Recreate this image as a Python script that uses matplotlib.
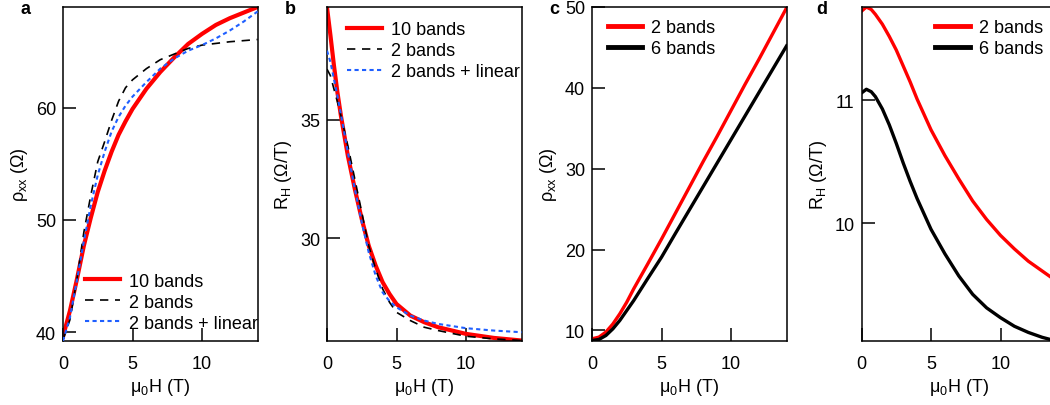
import matplotlib
matplotlib.use("Agg")
import matplotlib.pyplot as plt

plt.rcParams["font.family"] = ["Liberation Sans", "DejaVu Sans"]
plt.rcParams["mathtext.default"] = "regular"
plt.rcParams["font.size"] = 13

# ---- panel a: rho_xx fits (10 bands / 2 bands / 2 bands + linear)
a_x = [0, 0.5, 1, 1.5, 2, 2.5, 3, 3.5, 4, 4.5, 5, 6, 7, 8, 9, 10, 11, 12, 13, 14]
a_10b = [39.6, 41.9, 44.7, 47.7, 50.2, 52.5, 54.4, 56.1, 57.6, 58.8, 59.9,
         61.7, 63.2, 64.5, 65.7, 66.6, 67.4, 68.0, 68.5, 69.0]
a_2b = [39.3, 41.1, 44.7, 48.9, 52.2, 55.2, 57.0, 58.9, 60.6, 61.8, 62.5,
        63.5, 64.3, 64.8, 65.3, 65.6, 65.75, 65.9, 66.0, 66.1]
a_2bl = [39.2, 41.3, 44.6, 48.1, 51.3, 54.0, 56.1, 57.9, 59.2, 60.2, 61.0,
         62.3, 63.5, 64.4, 65.1, 65.6, 66.2, 66.9, 67.7, 68.6]

# ---- panel b: R_H fits
b_x = [0, 0.25, 0.5, 0.75, 1, 1.5, 2, 2.5, 3, 3.5, 4, 4.5, 5, 6, 7, 8, 10, 12, 14]
b_10b = [39.73, 38.54, 37.28, 36.15, 35.17, 33.48, 32.08, 30.81, 29.69, 28.85,
         28.15, 27.65, 27.23, 26.74, 26.46, 26.25, 25.97, 25.80, 25.69]
b_2b = [37.13, 36.85, 36.29, 35.75, 35.17, 33.90, 32.50, 31.10, 29.69, 28.70,
        27.87, 27.30, 26.88, 26.53, 26.25, 26.11, 25.87, 25.76, 25.69]
b_2bl = [37.91, 37.42, 36.71, 36.00, 35.24, 33.62, 32.08, 30.67, 29.41, 28.43,
         27.72, 27.35, 27.09, 26.74, 26.53, 26.39, 26.21, 26.11, 26.04]

# ---- panel c: rho_xx, 2 vs 6 bands
c_x = [0, 0.5, 1, 1.5, 2, 2.5, 3, 4, 5, 6, 7, 8, 9, 10, 11, 12, 13, 14]
c_2b = [8.97, 9.18, 9.8, 10.8, 12.06, 13.5, 15.15, 18.2, 21.3, 24.5, 27.7,
        30.9, 34.0, 37.2, 40.4, 43.5, 46.7, 49.9]
c_6b = [8.76, 8.89, 9.38, 10.2, 11.24, 12.47, 13.7, 16.4, 19.06, 22.0, 24.9,
        27.8, 30.7, 33.6, 36.5, 39.4, 42.3, 45.2]

# ---- panel d: R_H, 2 vs 6 bands
d_x = [0, 0.35, 0.7, 1, 1.5, 2, 2.5, 3, 3.5, 4, 5, 6, 7, 8, 9, 10, 11, 12, 13, 14]
d_2b = [11.726, 11.76, 11.74, 11.70, 11.62, 11.52, 11.41, 11.28, 11.15, 11.01,
        10.76, 10.55, 10.36, 10.18, 10.03, 9.90, 9.79, 9.69, 9.61, 9.53]
d_6b = [11.06, 11.09, 11.07, 11.03, 10.93, 10.80, 10.65, 10.49, 10.34, 10.20,
        9.95, 9.75, 9.57, 9.42, 9.31, 9.23, 9.16, 9.11, 9.07, 9.04]

RED = "#ff0000"
BLUE = "#1f5fff"

fig = plt.figure(figsize=(10.5, 4.06), dpi=100)
W, H = 1050, 406
bot, hgt = (406 - 342) / H, 334 / H
axw = 194.6 / W
lefts = [63, 327, 592, 861.5]
axes = [fig.add_axes([l / W, bot, axw, hgt]) for l in lefts]

for ax in axes:
    ax.set_xlim(0, 14)
    ax.set_xticks([0, 5, 10])
    ax.tick_params(direction="in", length=9.5, width=1.1, labelsize=13)
    ax.tick_params(axis="x", pad=10)
    ax.tick_params(axis="y", pad=5)
    for s in ax.spines.values():
        s.set_linewidth(1.1)
    ax.set_xlabel(r"$\mu_0$H (T)", fontsize=13, labelpad=3)

leg_kw = dict(frameon=False, fontsize=13, handlelength=1.9, labelspacing=0.22,
              handletextpad=0.5, borderpad=0, borderaxespad=0)

ax = axes[0]
ax.plot(a_x, a_10b, color=RED, lw=3, label="10 bands", zorder=2)
ax.plot(a_x, a_2b, color="black", lw=1.2, ls=(0, (5, 4)), label="2 bands", zorder=3)
ax.plot(a_x, a_2bl, color=BLUE, lw=1.5, ls=(0, (2, 1.6)), label="2 bands + linear", zorder=4)
ax.set_ylim(39.2, 69.0)
ax.set_yticks([40, 50, 60])
ax.set_ylabel(r"ρ$_{xx}$ (Ω)", labelpad=4)
ax.legend(loc="lower right", bbox_to_anchor=(1.0, 0.028), **leg_kw)

ax = axes[1]
ax.plot(b_x, b_10b, color=RED, lw=3, label="10 bands", zorder=2)
ax.plot(b_x, b_2b, color="black", lw=1.2, ls=(0, (5, 4)), label="2 bands", zorder=3)
ax.plot(b_x, b_2bl, color=BLUE, lw=1.5, ls=(0, (2, 1.6)), label="2 bands + linear", zorder=4)
ax.set_ylim(25.67, 39.75)
ax.set_yticks([30, 35])
ax.set_ylabel(r"R$_H$ (Ω/T)", labelpad=4)
ax.legend(loc="upper right", bbox_to_anchor=(0.99, 0.958), **leg_kw)

ax = axes[2]
ax.plot(c_x, c_2b, color=RED, lw=2.4, label="2 bands")
ax.plot(c_x, c_6b, color="black", lw=2.4, label="6 bands")
ax.set_ylim(8.7, 50)
ax.set_yticks([10, 20, 30, 40, 50])
ax.set_ylabel(r"ρ$_{xx}$ (Ω)", labelpad=4)
leg = ax.legend(loc="upper left", bbox_to_anchor=(0.082, 0.963), **leg_kw)
for h in leg.legend_handles:
    h.set_linewidth(3.5)

ax = axes[3]
ax.plot(d_x, d_2b, color=RED, lw=2.4, label="2 bands")
ax.plot(d_x, d_6b, color="black", lw=2.4, label="6 bands")
ax.set_ylim(9.04, 11.76)
ax.set_yticks([10, 11])
ax.set_ylabel(r"R$_H$ (Ω/T)", labelpad=4)
leg = ax.legend(loc="upper right", bbox_to_anchor=(0.933, 0.963), **leg_kw)
for h in leg.legend_handles:
    h.set_linewidth(3.5)

for lab, xp in zip("abcd", [20, 285, 549, 816]):
    fig.text(xp / W, 1 - 1 / H, lab, fontsize=13, fontweight="bold", va="top")

fig.savefig("out.png", dpi=100)
